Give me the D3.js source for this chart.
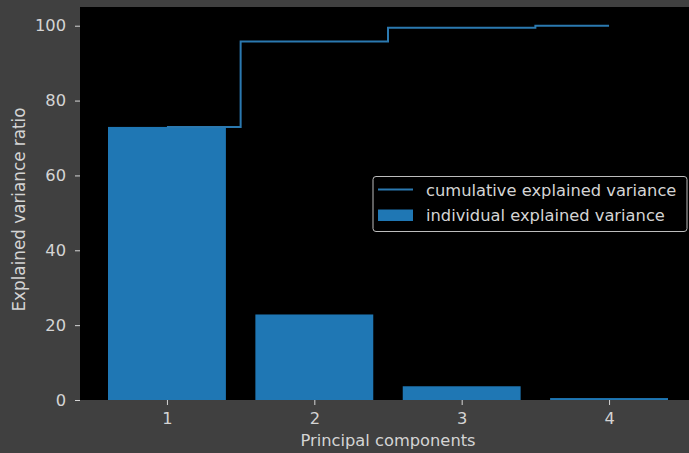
<!DOCTYPE html>
<html>
<head>
<meta charset="utf-8">
<script src="https://cdn.jsdelivr.net/npm/d3@7"></script>
<style>
  html, body { margin: 0; padding: 0; background: #404040; }
  svg { display: block; }
  text { font-family: "DejaVu Sans", sans-serif; fill: #d4d4d4; }
</style>
</head>
<body>
<svg id="chart" width="689" height="453"></svg>
<script>
// Principal components and their explained variance (%)
const components = [1, 2, 3, 4];
const individualVariance = [72.96, 22.85, 3.67, 0.52];
const cumulativeVariance = [72.96, 95.81, 99.48, 100.0];
const yTicks = [0, 20, 40, 60, 80, 100];

const margin = { left: 80, right: 696, top: 7, bottom: 400 };
const fontSize = 16.3;

const svg = d3.select("#chart");

const x = d3.scaleLinear().domain([0.41, 4.59]).range([margin.left, margin.right]);
const y = d3.scaleLinear().domain([0, 105]).range([margin.bottom, margin.top]);

function label(parent, tx, ty, str, anchor) {
  return parent.append("text")
    .attr("x", tx).attr("y", ty)
    .attr("text-anchor", anchor || "start")
    .attr("font-size", fontSize + "px")
    .text(str);
}

// Axes background
svg.append("rect")
  .attr("x", margin.left).attr("y", margin.top)
  .attr("width", margin.right - margin.left)
  .attr("height", margin.bottom - margin.top)
  .attr("fill", "#000");

// Individual variance bars (width 0.8)
svg.append("g").selectAll("rect")
  .data(components)
  .join("rect")
  .attr("x", (d) => x(d - 0.4))
  .attr("width", (d) => x(d + 0.4) - x(d - 0.4))
  .attr("y", (d, i) => y(individualVariance[i]))
  .attr("height", (d, i) => y(0) - y(individualVariance[i]))
  .attr("fill", "#1f77b4");

// Cumulative variance step line
const line = d3.line()
  .x((d) => x(d[0]))
  .y((d) => y(d[1]))
  .curve(d3.curveStep);
svg.append("path")
  .datum(components.map((c, i) => [c, cumulativeVariance[i]]))
  .attr("d", line)
  .attr("fill", "none")
  .attr("stroke", "#2b79b0")
  .attr("stroke-width", 2);

// Y axis
const yAxis = d3.axisLeft(y).tickValues(yTicks).tickSize(5).tickPadding(9).tickFormat(d3.format("d"));
const gy = svg.append("g").attr("transform", `translate(${margin.left},0)`).call(yAxis);
gy.select(".domain").remove();
gy.selectAll(".tick line").attr("stroke", "#d4d4d4");
gy.selectAll(".tick text")
  .attr("font-size", fontSize + "px")
  .attr("fill", "#d4d4d4");

// X axis
const xAxis = d3.axisBottom(x).tickValues(components).tickSize(5).tickFormat(d3.format("d"));
const gx = svg.append("g").attr("transform", `translate(0,${margin.bottom})`).call(xAxis);
gx.select(".domain").remove();
gx.selectAll(".tick line").attr("stroke", "#d4d4d4");
gx.selectAll(".tick text")
  .attr("font-size", fontSize + "px")
  .attr("fill", "#d4d4d4")
  .attr("y", 24).attr("dy", null);

// Axis titles
label(svg, (margin.left + margin.right) / 2, 446, "Principal components", "middle");

svg.append("text")
  .attr("transform", `translate(25,${(margin.top + margin.bottom) / 2 + 6}) rotate(-90)`)
  .attr("text-anchor", "middle")
  .attr("font-size", "16.8px")
  .text("Explained variance ratio");

// Legend
const lg = svg.append("g");
lg.append("rect")
  .attr("x", 373).attr("y", 176.5)
  .attr("width", 314).attr("height", 55)
  .attr("rx", 3)
  .attr("fill", "#000")
  .attr("stroke", "#bdbdbd")
  .attr("stroke-width", 1);
lg.append("line")
  .attr("x1", 378).attr("x2", 413)
  .attr("y1", 189.5).attr("y2", 189.5)
  .attr("stroke", "#2b79b0").attr("stroke-width", 2);
lg.append("rect")
  .attr("x", 378).attr("y", 209.5)
  .attr("width", 35).attr("height", 11.5)
  .attr("fill", "#1f77b4");
label(lg, 426, 195.5, "cumulative explained variance");
label(lg, 426, 221, "individual explained variance");
</script>
</body>
</html>
